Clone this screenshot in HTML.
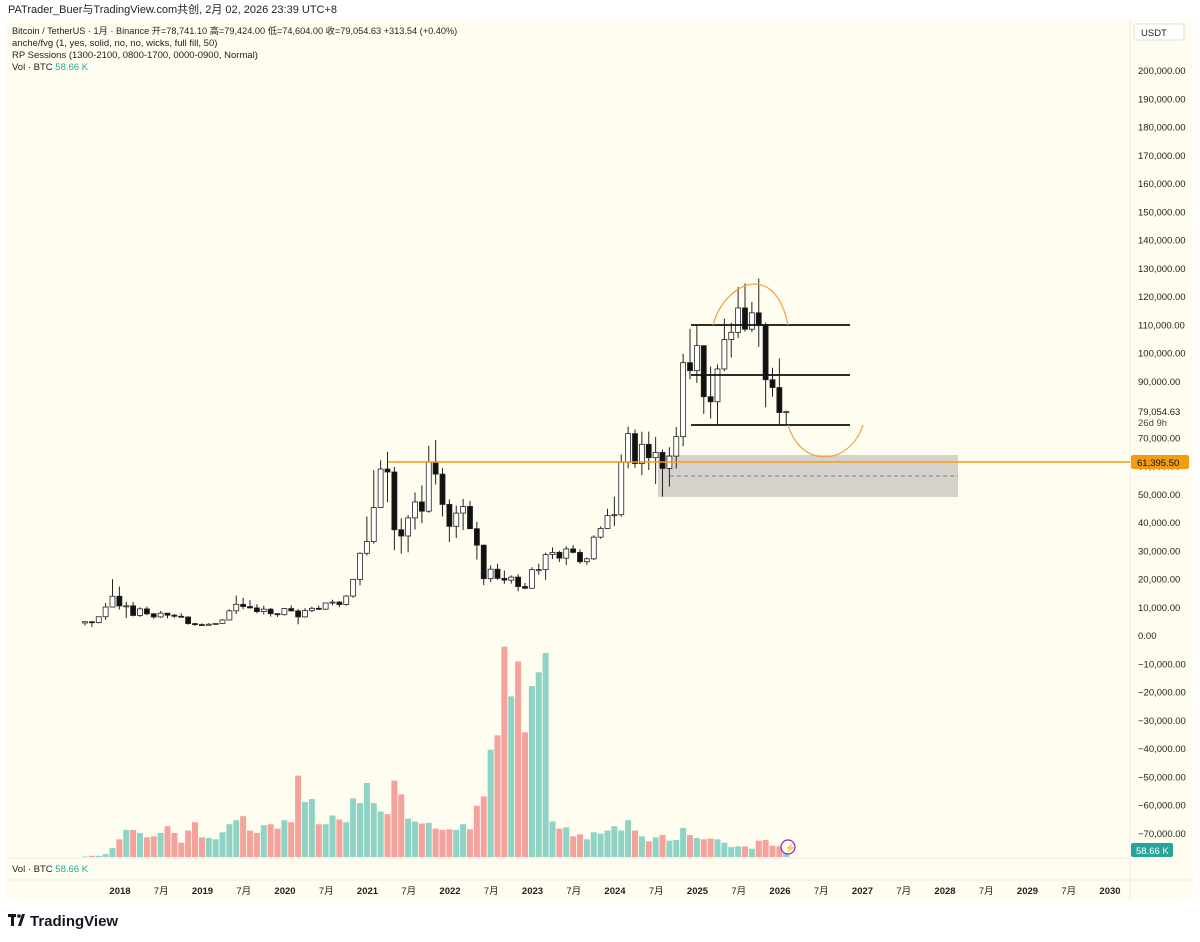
<!DOCTYPE html>
<html><head><meta charset="utf-8"><style>
body{margin:0;background:#fff;width:1200px;height:942px;overflow:hidden;font-family:"Liberation Sans","Noto Sans CJK SC",sans-serif;}
svg{position:absolute;left:0;top:0}
</style></head><body>
<svg id="s" width="1200" height="942" xmlns="http://www.w3.org/2000/svg" font-family="Liberation Sans, Noto Sans CJK SC, sans-serif"></svg>
<script>
const S=document.getElementById('s');let h='';
h+='<text x="8" y="13" font-size="11" fill="#222">PATrader_Buer与TradingView.com共创, 2月 02, 2026 23:39 UTC+8</text>';
h+='<rect x="6" y="20" width="1187" height="860" fill="#fffdf0"/>';
h+='<rect x="6" y="880" width="1187" height="20" fill="#fffdf0"/>';
h+='<line x1="6" y1="880" x2="1193" y2="880" stroke="#ecebe0"/>';
h+='<line x1="6" y1="858" x2="1130" y2="858" stroke="#ecebe0"/>';
h+='<line x1="1130" y1="20" x2="1130" y2="900" stroke="#ecebe0"/>';
h+='<text x="12" y="34" font-size="9.2" fill="#222">Bitcoin / TetherUS · 1月 · Binance  开=78,741.10  高=79,424.00  低=74,604.00  收=79,054.63  +313.54 (+0.40%)</text>';
h+='<text x="12" y="46" font-size="9.5" fill="#222">anche/fvg (1, yes, solid, no, no, wicks, full fill, 50)</text>';
h+='<text x="12" y="58" font-size="9.5" fill="#222">RP Sessions (1300-2100, 0800-1700, 0000-0900, Normal)</text>';
h+='<text x="12" y="70" font-size="9.5" fill="#222">Vol · BTC <tspan fill="#26a69a">58.66 K</tspan></text>';
h+='<rect x="1134" y="24" width="50" height="16" rx="2" fill="#fff" stroke="#ddd"/><text x="1141" y="36" font-size="9.5" fill="#222">USDT</text>';
const Y=p=>635-p*0.002825;
for(let k=20;k>=-7;k--){const v=k*10000;let t=k==0?'0.00':(k<0?'−':'')+Math.abs(v).toLocaleString('en-US')+'.00';h+=`<text x="1138" y="${Y(v)+4}" font-size="9.5" fill="#222">${t}</text>`;}
h+='<rect x="658" y="455" width="300" height="42" fill="#d4d2cb"/>';
h+='<line x1="670" y1="476" x2="958" y2="476" stroke="#9a6fa0" stroke-dasharray="4,3"/>';
const D=[[4261,4745,3400,4724],[4690,4939,2817,4378],[4378,6470,4110,6463],[6463,11300,5325,9900],[9900,19798,9900,13716],[13716,17176,9035,10285],[10285,11786,6000,10326],[10326,11710,6600,6923],[6923,9759,6430,9247],[9247,10020,7032,7494],[7494,7786,5750,6391],[6391,8506,6070,7730],[7730,7750,5880,7011],[7011,7410,6100,6626],[6626,7680,6205,6371],[6371,6600,3652,4041],[4041,4314,3156,3702],[3702,4140,3349,3434],[3434,4198,3400,3814],[3814,4140,3670,4103],[4103,5600,4050,5321],[5321,9074,5280,8555],[8555,13970,7444,10855],[10855,13200,9111,10085],[10085,12325,9320,9588],[9588,10905,7710,8289],[8289,10370,7300,9150],[9150,9510,6515,7541],[7541,7750,6435,7195],[7195,9578,6871,9352],[9352,10500,8451,8523],[8523,9188,3782,6410],[6410,9467,6150,8620],[8620,10067,8117,9448],[9448,10380,8833,9138],[9138,11444,8893,11335],[11335,12468,10518,11649],[11649,12050,9825,10776],[10776,14100,10374,13791],[13791,19863,13195,19695],[19695,29300,17572,28923],[28923,41950,28130,33092],[33092,58352,32296,45135],[45135,61844,44950,58740],[58740,64854,47044,57694],[57694,59500,30000,37253],[37253,41330,28805,35045],[35045,42448,29278,41461],[41461,50500,37332,47100],[47100,52920,39600,43824],[43824,67000,43283,61299],[61299,69000,53256,56950],[56950,59053,42000,46216],[46216,47990,32917,38466],[38466,45821,34322,43160],[43160,48189,37155,45510],[45510,47444,37578,37630],[37630,40023,26700,31801],[31801,31986,17622,19942],[19942,24668,18781,23293],[23293,25211,19520,20050],[20050,22799,18125,19422],[19422,21085,18190,20490],[20490,21480,15476,17164],[17164,18387,16256,16542],[16542,23960,16499,23125],[23125,25250,21351,23141],[23141,29184,19549,28465],[28465,31000,26942,29233],[29233,29820,25811,27210],[27210,31431,24800,30472],[30472,31804,28861,29232],[29232,30244,25166,25941],[25941,27488,24901,26962],[26962,35280,26538,34639],[34639,38450,34097,37723],[37723,44700,37615,42283],[42283,48969,38555,42580],[42580,63913,41884,61130],[61130,73777,59005,71280],[71280,72797,59191,60672],[60672,71979,56552,67491],[67491,71997,58402,62772],[62772,70079,53485,64628],[64628,65659,49000,58973],[58973,66498,52550,63327],[63327,73620,58946,70215],[70215,99588,66835,96407],[96407,108353,90500,93576],[93576,109588,89256,102429],[102429,102500,78258,84349],[84349,95000,76606,82550],[82550,95758,74508,94172],[94172,111980,93346,104591],[104591,110530,98200,107135],[107135,123218,105100,115764],[115764,124474,107350,108246],[108246,117900,107255,114048],[114048,126199,102000,109608],[109608,110600,80600,90360],[90360,94600,84400,87600],[87600,97900,74600,78741],[78741,79424,74604,79054]];
const V=[645,643,643,638,620,594,566,566,575,588,585,575,555,575,604,568,543,588,590,594,573,549,537,525,568,575,552,549,562,537,543,404,483,474,549,549,523,535,543,472,486,426,486,511,519,419,460,532,541,547,545,562,566,564,566,549,564,494,466,327,284,20,168,64,275,137,96,39,541,562,558,585,579,594,573,577,568,555,568,537,568,585,600,588,581,598,596,560,581,590,594,592,594,604,617,615,615,622,598,596,613,615,615];
const X=i=>85+i*6.875;
for(let i=0;i<D.length;i++){const top=640+(V[i]||615)/2.98;const up=D[i][3]>=D[i][0];const c=up?'#8fd3c5':'#f4a39c';h+=`<rect x="${X(i)-3}" y="${top}" width="6" height="${857-top}" fill="${c}"/>`;}
for(let i=0;i<D.length;i++){const [o,hi,l,c]=D[i];const x=X(i);h+=`<line x1="${x}" y1="${Y(hi)}" x2="${x}" y2="${Y(l)}" stroke="#222" stroke-width="1"/>`;const t=Math.min(Y(o),Y(c)),b=Math.max(Y(o),Y(c));const up=c>=o;h+=`<rect x="${x-2.5}" y="${t}" width="5" height="${Math.max(b-t,1)}" fill="${up?'#fff':'#111'}" stroke="#222" stroke-width="0.8"/>`;}
h+='<line x1="388" y1="462" x2="1130" y2="462" stroke="#f39c12" stroke-width="1.5"/>';
[325,375,425].forEach(y=>h+=`<line x1="691" y1="${y}" x2="850" y2="${y}" stroke="#111" stroke-width="1.8"/>`);
h+='<path d="M713,325 C725,282 775,260 788,325" fill="none" stroke="#f0a040" stroke-width="1.2"/>';
h+='<path d="M788,425 C802,470 850,465 863,425" fill="none" stroke="#f0a040" stroke-width="1.2"/>';
h+='<circle cx="788" cy="847" r="7" fill="#fff" stroke="#9c27b0" stroke-width="1.2"/><text x="784.5" y="851" font-size="9" fill="#9c27b0">⚡</text>';
h+='<rect x="1131" y="403" width="58" height="15" fill="#fffdf0"/><text x="1138" y="415" font-size="9.5" fill="#222">79,054.63</text><text x="1138" y="426" font-size="9.5" fill="#444">26d 9h</text>';
h+='<rect x="1131" y="455" width="58" height="14" rx="2" fill="#f39c12"/><text x="1137" y="466" font-size="9.5" fill="#111">61,395.50</text>';
h+='<rect x="1131" y="843" width="42" height="14" rx="2" fill="#26a69a"/><text x="1136" y="854" font-size="9.5" fill="#fff">58.66 K</text>';
h+='<text x="12" y="872" font-size="9.5" fill="#222">Vol · BTC <tspan fill="#26a69a">58.66 K</tspan></text>';
for(let k=0;k<=12;k++){const x=120+k*82.5;h+=`<text x="${x}" y="894" font-size="9.5" font-weight="bold" fill="#222" text-anchor="middle">${2018+k}</text>`;if(k<12)h+=`<text x="${x+41.25}" y="894" font-size="9.5" fill="#222" text-anchor="middle">7月</text>`;}
h+='<rect x="8" y="914" width="8" height="3" fill="#131722"/><rect x="11" y="914" width="3" height="12" fill="#131722"/><polygon points="18,926 22,914 25,914 21,926" fill="#131722"/><circle cx="19" cy="916" r="1.8" fill="#131722"/>';
h+='<text x="30" y="926" font-size="15" font-weight="bold" fill="#131722">TradingView</text>';
S.innerHTML=h;
</script>
</body></html>
